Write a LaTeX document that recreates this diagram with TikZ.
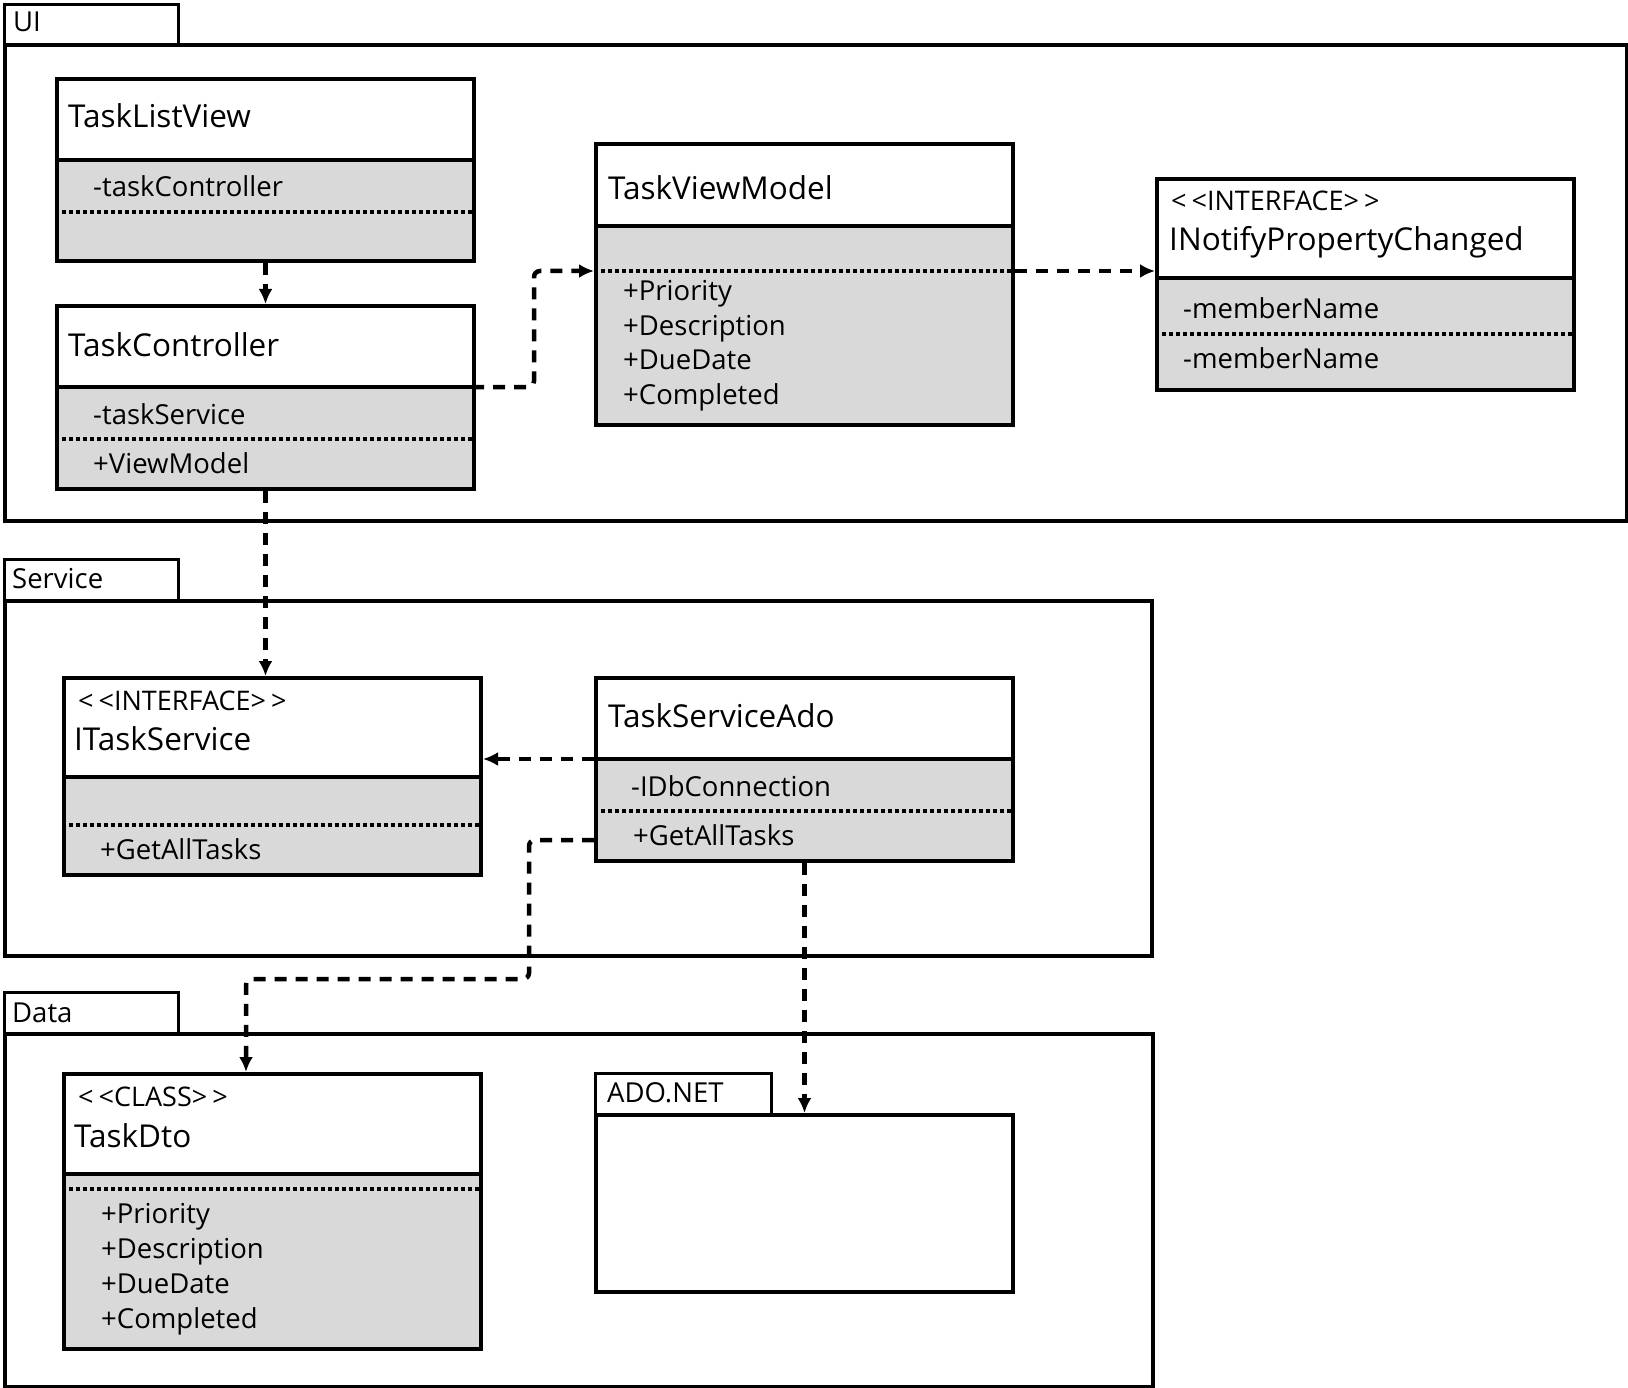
\documentclass[tikz,border=0pt]{standalone}
\usepackage{fontspec}
\setmainfont{Open Sans}
\usetikzlibrary{arrows.meta,calc}
\definecolor{cgray}{RGB}{217,217,217}
\newcommand\umlcls[8]{% name, x1,y1,x2,y2, divider y, dotted y
  \fill[cgray] (#2,#6) rectangle (#4,#5);
  \draw[sepline] (#2,#6) -- (#4,#6);
  \draw[dotline] (#2,#7) -- (#4,#7);
  \node[classbox,minimum width={#4-#2},minimum height={#5-#3}] (#1) at (#2,#3) {};
}
\newcommand\stereotxt[1]{<\kern5pt<#1>\kern5pt>}
\begin{document}
\begin{tikzpicture}[x=1pt,y=-1pt,
  classbox/.style={draw=black,line width=4pt,rectangle,inner sep=0pt,outer sep=2pt,anchor=north west},
  tabbox/.style={draw=black,line width=3pt,rectangle,inner sep=0pt,anchor=north west},
  sepline/.style={line width=4pt},
  dotline/.style={line width=4pt,dash pattern=on 4pt off 3pt},
  dep/.style={line width=4.5pt,dash pattern=on 12pt off 9pt,rounded corners=6pt,-{Latex[length=15pt,width=14pt]}},
  nametxt/.style={anchor=base west,inner sep=0pt,font=\fontsize{31.5}{36}\selectfont},
  attrtxt/.style={anchor=base west,inner sep=0pt,font=\fontsize{27.5}{32}\selectfont},
  stereo/.style={anchor=base west,inner sep=0pt,font=\fontsize{27}{31}\selectfont},
  pkgtxt/.style={anchor=base west,inner sep=0pt,font=\fontsize{27.5}{31}\selectfont},
]
\useasboundingbox[fill=white] (0,0) rectangle (1628,1388);

% ---------- packages ----------
\node[tabbox,minimum width=174,minimum height=40] (uitab) at (3,3) {};
\node[classbox,minimum width=1622,minimum height=476] (ui) at (3,43) {};
\node[pkgtxt] (uilbl) at (13,32) {UI};

\node[tabbox,minimum width=174,minimum height=41] (svtab) at (3,558) {};
\node[classbox,minimum width=1147,minimum height=355] (sv) at (3,599) {};
\node[pkgtxt] (svlbl) at (12,588) {Service};

\node[tabbox,minimum width=174,minimum height=41] (dttab) at (3,991) {};
\node[classbox,minimum width=1148,minimum height=353] (dt) at (3,1032) {};
\node[pkgtxt] (dtlbl) at (12,1022) {Data};

% ---------- classes ----------
\umlcls{tlv}{55}{77}{472}{259}{160}{212}{}
\node[nametxt] (tlvn) at (68,128) {TaskListView};
\node[attrtxt] (tlva) at (93,197) {-taskController};

\umlcls{tc}{55}{304}{472}{487}{387}{439}{}
\node[nametxt] (tcn) at (68,356) {TaskController};
\node[attrtxt] (tca) at (93,424) {-taskService};
\node[attrtxt] (tcm) at (93,473) {+ViewModel};

\umlcls{tvm}{594}{142}{1011}{423}{226}{271}{}
\node[nametxt] (tvmn) at (608,200) {TaskViewModel};
\node[attrtxt] (tvm1) at (623,301) {+Priority};
\node[attrtxt] (tvm2) at (623,335) {+Description};
\node[attrtxt] (tvm3) at (623,370) {+DueDate};
\node[attrtxt] (tvm4) at (623,404) {+Completed};

\umlcls{inpc}{1155}{177}{1572}{388}{278}{334}{}
\node[stereo] (inpcs) at (1171,211) {\stereotxt{INTERFACE}};
\node[nametxt] (inpcn) at (1169,251) {INotifyPropertyChanged};
\node[attrtxt] (inpc1) at (1183,319) {-memberName};
\node[attrtxt] (inpc2) at (1183,368) {-memberName};

\umlcls{its}{62}{676}{479}{873}{777}{825}{}
\node[stereo] (itss) at (78,710) {\stereotxt{INTERFACE}};
\node[nametxt] (itsn) at (74,750) {ITaskService};
\node[attrtxt] (itsm) at (100,859) {+GetAllTasks};

\umlcls{tsa}{594}{676}{1011}{859}{759}{811}{}
\node[nametxt] (tsan) at (608,727) {TaskServiceAdo};
\node[attrtxt] (tsaa) at (631,796) {-IDbConnection};
\node[attrtxt] (tsam) at (633,845) {+GetAllTasks};

\umlcls{dto}{62}{1072}{479}{1347}{1174}{1189}{}
\node[stereo] (dtos) at (78,1106) {\stereotxt{CLASS}};
\node[nametxt] (dton) at (74,1147) {TaskDto};
\node[attrtxt] (dto1) at (101,1223) {+Priority};
\node[attrtxt] (dto2) at (101,1258) {+Description};
\node[attrtxt] (dto3) at (101,1293) {+DueDate};
\node[attrtxt] (dto4) at (101,1328) {+Completed};

% ADO.NET package
\node[tabbox,minimum width=176,minimum height=41] (adotab) at (594,1072) {};
\node[classbox,minimum width=417,minimum height=177] (ado) at (594,1113) {};
\node[pkgtxt] (adolbl) at (607,1102) {ADO.NET};

% ---------- connector helper points ----------
\coordinate (tcdiv) at (472,387);
\coordinate (tvmdot) at (0,271);
\coordinate (tsadiv) at (0,759);
\coordinate (tsaop) at (0,840);
\coordinate (j1) at (529,979);
\coordinate (dtoin) at (246,0);

% ---------- connectors ----------
\draw[dep] (tlv.south) -- (tc.north);
\draw[dep] (tcdiv) -- ++(62,0) |- (tvm.west |- tvmdot);
\draw[dep] (tvm.east |- tvmdot) -- (inpc.west |- tvmdot);
\draw[dep] (tc.south) -- (tc.south |- its.north);
\draw[dep] (tsa.west |- tsadiv) -- (its.east |- tsadiv);
\draw[dep] (tsa.west |- tsaop) -| (j1) -| (dto.north -| dtoin);
\draw[dep] (tsa.south) -- (tsa.south |- ado.north);
\end{tikzpicture}
\end{document}
